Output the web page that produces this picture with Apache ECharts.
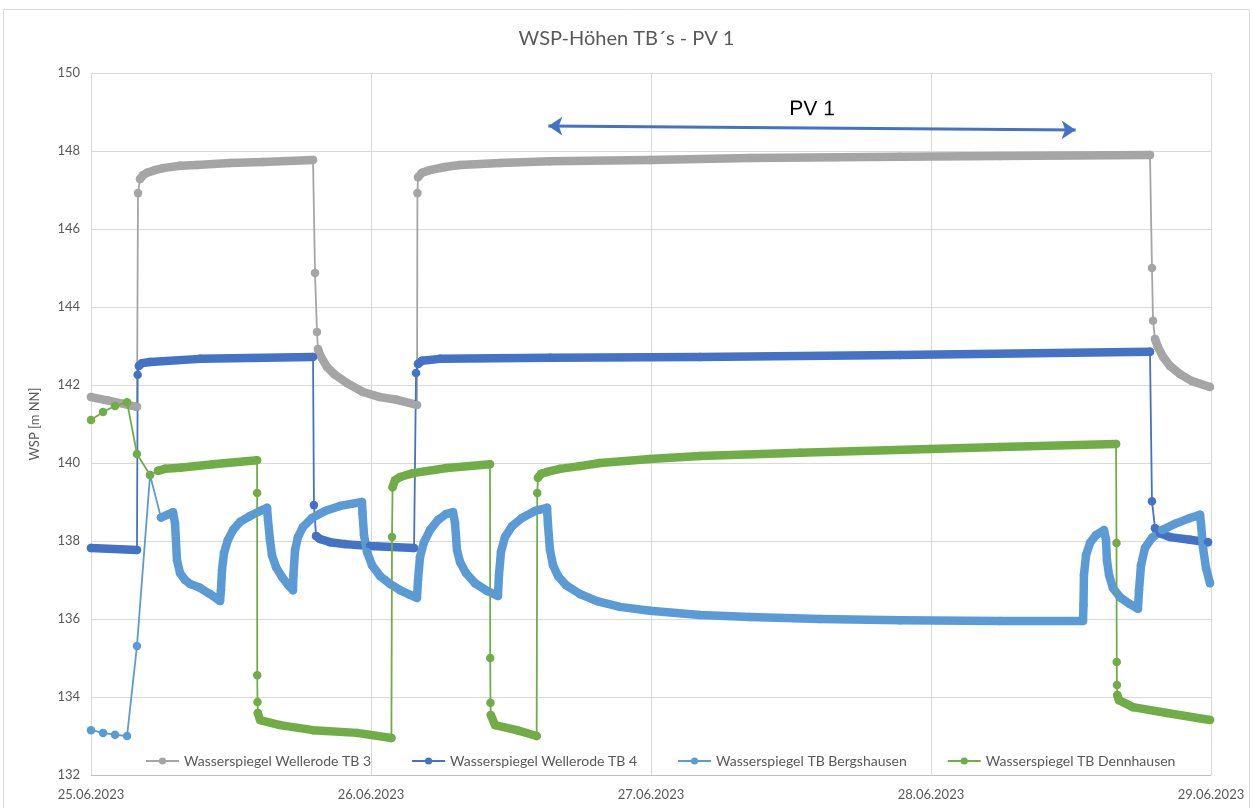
<!DOCTYPE html>
<html>
<head>
<meta charset="utf-8">
<script src="https://cdn.jsdelivr.net/npm/echarts@6/dist/echarts.min.js"></script>
<style>html,body{margin:0;padding:0;background:#fff}#c{width:1253px;height:808px}</style>
</head>
<body>
<div id="c"></div>
<script>
// x values: hours since 25.06.2023 00:00
const xTickLabels = ['25.06.2023', '26.06.2023', '27.06.2023', '28.06.2023', '29.06.2023'];
const yTicks = [132, 134, 136, 138, 140, 142, 144, 146, 148, 150];
const seriesNames = ['Wasserspiegel Wellerode TB 3', 'Wasserspiegel Wellerode TB 4', 'Wasserspiegel TB Bergshausen', 'Wasserspiegel TB Dennhausen'];

// Wellerode TB 3
const tb3Lead = [];
const tb3Runs = [
  [[0, 141.69], [1.5, 141.6], [3.94, 141.44]],
  [[4.2, 147.28], [4.46, 147.38], [4.8, 147.44], [5.49, 147.51], [6.17, 147.56], [7.63, 147.62], [9.09, 147.64], [11.91, 147.69], [14.74, 147.72], [19.03, 147.77]],
  [[19.46, 142.92], [19.63, 142.77], [20.23, 142.46], [20.91, 142.26], [21.94, 142.05], [23.31, 141.82], [24.77, 141.69], [26.23, 141.62], [27.94, 141.49]],
  [[28.03, 147.33], [28.37, 147.44], [29.06, 147.51], [30.34, 147.59], [31.63, 147.64], [35.06, 147.69], [39.34, 147.74], [47.91, 147.77], [56.49, 147.82], [69.34, 147.85], [77.91, 147.87], [90.77, 147.9]],
  [[91.2, 143.18], [91.46, 142.97], [91.89, 142.72], [92.48, 142.49], [93.34, 142.28], [94.37, 142.1], [95.91, 141.95]]
];
const tb3Links = [
  [[4.03, 146.92]],
  [[19.2, 144.87], [19.37, 143.36]],
  [[27.98, 146.92]],
  [[90.94, 145.0], [91.03, 143.65]]
];

// Wellerode TB 4
const tb4Lead = [];
const tb4Runs = [
  [[0, 137.82], [3.94, 137.77]],
  [[4.11, 142.49], [4.37, 142.56], [5.06, 142.59], [9.34, 142.67], [19.03, 142.72]],
  [[19.29, 138.13], [19.63, 138.05], [20.49, 137.97], [21.77, 137.92], [23.91, 137.87], [27.69, 137.82]],
  [[28.03, 142.54], [28.37, 142.62], [29.91, 142.67], [39.34, 142.7], [52.2, 142.72], [69.34, 142.77], [90.77, 142.85]],
  [[91.2, 138.33], [91.63, 138.2], [92.48, 138.1], [94.2, 138.03], [95.74, 137.97]]
];
const tb4Links = [
  [[4.0, 142.26]],
  [[19.11, 138.92]],
  [[27.86, 142.31]],
  [[90.94, 139.02]]
];

// TB Bergshausen
const bergLead = [[0, 133.15], [1.03, 133.08], [2.06, 133.03], [3.09, 133.0], [3.94, 135.31], [5.06, 139.69]];
const bergRuns = [
  [[6.0, 138.6], [7.03, 138.74], [7.2, 138.46], [7.37, 137.51], [7.63, 137.18], [8.06, 137.0], [8.49, 136.9], [9.34, 136.8], [10.2, 136.64], [11.06, 136.46],
   [11.14, 136.74], [11.23, 137.26], [11.4, 137.69], [11.74, 138.03], [12.17, 138.28], [12.77, 138.49], [13.63, 138.64], [14.49, 138.77], [15.09, 138.85],
   [15.17, 138.54], [15.34, 138.03], [15.51, 137.64], [15.86, 137.33], [16.37, 137.08], [16.89, 136.87], [17.31, 136.74],
   [17.35, 137.13], [17.49, 137.77], [17.74, 138.1], [18.17, 138.36], [18.94, 138.59], [20.06, 138.77], [21.34, 138.9], [23.23, 139.0],
   [23.27, 138.72], [23.4, 138.15], [23.66, 137.72], [24.09, 137.38], [24.77, 137.1], [25.63, 136.9], [26.49, 136.74], [27.34, 136.62], [27.94, 136.54],
   [28.03, 137.0], [28.2, 137.59], [28.54, 137.97], [29.06, 138.28], [29.74, 138.54], [30.43, 138.69], [31.03, 138.74],
   [31.2, 138.46], [31.37, 137.77], [31.63, 137.46], [32.14, 137.18], [32.91, 136.92], [33.94, 136.72], [34.88, 136.59],
   [34.97, 137.13], [35.14, 137.72], [35.48, 138.1], [36.08, 138.38], [36.94, 138.59], [38.06, 138.77], [39.09, 138.85],
   [39.17, 138.41], [39.34, 137.77], [39.6, 137.38], [40.03, 137.1], [40.71, 136.87], [41.91, 136.64], [43.37, 136.46], [45.34, 136.31], [47.91, 136.21], [52.2, 136.1], [56.49, 136.05], [62.49, 136.0], [69.34, 135.97], [77.91, 135.95], [85.03, 135.95],
   [85.07, 136.36], [85.11, 137.13], [85.29, 137.64], [85.63, 137.95], [86.14, 138.15], [86.83, 138.28],
   [87.0, 138.03], [87.08, 137.51], [87.26, 137.13], [87.6, 136.79], [88.2, 136.56], [89.06, 136.38], [89.74, 136.26],
   [89.83, 136.74], [90.0, 137.38], [90.34, 137.82], [90.94, 138.08], [91.8, 138.28], [92.91, 138.44], [94.2, 138.59], [95.06, 138.67],
   [95.15, 138.41], [95.32, 137.82], [95.57, 137.31], [95.91, 136.92]]
];
const bergLinks = [];

// TB Dennhausen
const dennLead = [[0, 141.1], [1.03, 141.31], [2.06, 141.46], [3.09, 141.56], [3.94, 140.23], [5.06, 139.69]];
const dennRuns = [
  [[5.74, 139.8], [6.34, 139.85], [7.63, 139.88], [10.46, 139.97], [14.23, 140.07]],
  [[14.3, 133.59], [14.49, 133.41], [16.2, 133.28], [19.03, 133.15], [22.8, 133.08], [25.75, 132.95]],
  [[25.85, 139.38], [26.06, 139.56], [26.49, 139.64], [27.6, 139.74], [30.51, 139.87], [34.2, 139.97]],
  [[34.27, 133.54], [34.63, 133.28], [36.51, 133.15], [38.2, 133.0]],
  [[38.31, 139.62], [38.57, 139.72], [39.09, 139.77], [40.2, 139.85], [41.91, 139.92], [43.63, 140.0], [47.91, 140.1], [52.2, 140.18], [60.77, 140.26], [71.91, 140.36], [77.91, 140.41], [87.86, 140.49]],
  [[87.97, 134.05], [88.1, 133.92], [89.31, 133.74], [92.23, 133.59], [95.91, 133.41]]
];
const dennLinks = [
  [[14.24, 139.23], [14.25, 134.56], [14.27, 133.87]],
  [[25.8, 138.1]],
  [[34.22, 135.0], [34.24, 133.85]],
  [[38.25, 139.23]],
  [[87.9, 137.95], [87.92, 134.9], [87.94, 134.31]]
];

// annotation arrow (PV 1)
const pvArrow = [[39.2, 148.64], [84.4, 148.54]];
const pvLabel = 'PV 1';

const colors = ['#A5A5A5', '#4472C4', '#5B9BD5', '#70AD47'];
const font = 'Lato, "Open Sans", sans-serif';
const series = [];

function addSeries(name, color, lead, runs, links, extra) {
  const path = lead.slice();
  runs.forEach((r, i) => { path.push(...r); if (links[i]) path.push(...links[i]); });
  const thin = {
    name: name, type: 'line', data: path, symbol: 'circle', symbolSize: 8.5, showAllSymbol: true,
    lineStyle: { width: 1.8, color: color }, itemStyle: { color: color }, emphasis: { disabled: true }
  };
  if (extra) Object.assign(thin, extra);
  series.push(thin);
  runs.forEach(r => series.push({
    name: name, type: 'line', data: r, symbol: 'none', silent: true,
    lineStyle: { width: 8.5, color: color, cap: 'round', join: 'round' }, itemStyle: { color: color },
    emphasis: { disabled: true }
  }));
}

addSeries(seriesNames[0], colors[0], tb3Lead, tb3Runs, tb3Links, {
  markLine: {
    silent: true, symbol: ['arrow', 'arrow'], symbolSize: [14, 14], animation: false,
    lineStyle: { color: '#4472C4', width: 3, type: 'solid' },
    label: { show: true, position: 'middle', formatter: pvLabel, color: '#000', fontSize: 21, fontFamily: '"Liberation Sans", Arial, sans-serif', distance: 8 },
    emphasis: { disabled: true },
    data: [[{ coord: pvArrow[0] }, { coord: pvArrow[1] }]]
  }
});
addSeries(seriesNames[1], colors[1], tb4Lead, tb4Runs, tb4Links);
addSeries(seriesNames[2], colors[2], bergLead, bergRuns, bergLinks);
addSeries(seriesNames[3], colors[3], dennLead, dennRuns, dennLinks);

const chart = echarts.init(document.getElementById('c'), null, { renderer: 'canvas' });
chart.setOption({
  animation: false,
  backgroundColor: '#fff',
  textStyle: { fontFamily: font },
  title: {
    text: 'WSP-Höhen TB´s - PV 1', left: 'center', top: 24,
    textStyle: { fontSize: 20, fontWeight: 'normal', color: '#595959', fontFamily: font }
  },
  graphic: [{
    type: 'rect', silent: true, z: -1,
    shape: { x: 3.5, y: 9.5, width: 1246, height: 830 },
    style: { fill: 'none', stroke: '#d9d9d9', lineWidth: 1 }
  }],
  legend: {
    data: seriesNames, bottom: 35, left: 140, itemGap: 40, itemWidth: 33, itemHeight: 9,
    textStyle: { fontSize: 14, color: '#595959', fontFamily: font }
  },
  grid: { left: 91, right: 42, top: 73, bottom: 33, containLabel: false },
  xAxis: {
    type: 'value', min: 0, max: 96, interval: 24,
    axisLine: { show: true, lineStyle: { color: '#bfbfbf' } },
    axisTick: { show: false },
    splitLine: { show: true, lineStyle: { color: '#d9d9d9' } },
    axisLabel: { color: '#595959', fontSize: 13, margin: 13, formatter: v => xTickLabels[Math.round(v / 24)] }
  },
  yAxis: {
    type: 'value', min: yTicks[0], max: yTicks[yTicks.length - 1], interval: 2,
    name: 'WSP [m NN]', nameLocation: 'middle', nameGap: 50, nameRotate: 90,
    nameTextStyle: { color: '#595959', fontSize: 13 },
    axisLine: { show: false }, axisTick: { show: false },
    splitLine: { show: true, lineStyle: { color: '#d9d9d9' } },
    axisLabel: { color: '#595959', fontSize: 13, margin: 11 }
  },
  series: series
});
</script>
</body>
</html>
